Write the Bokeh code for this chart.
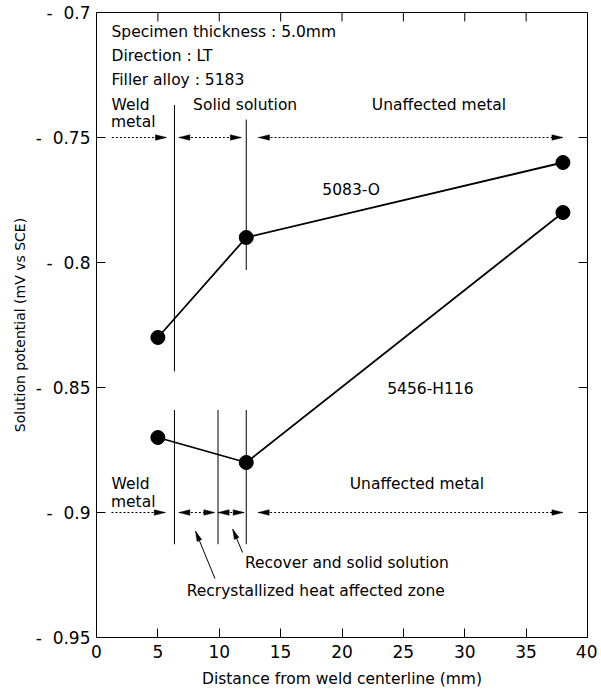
import math
from bokeh.plotting import figure
from bokeh.models import Range1d, FixedTicker, CustomJSTickFormatter
from bokeh.core.properties import value
from bokeh.embed import file_html
from bokeh.resources import INLINE

# ---------------- data ----------------
distance = [5.0, 12.2, 38.0]
pot_5083_O = [-0.83, -0.79, -0.76]
pot_5456_H116 = [-0.87, -0.88, -0.78]

x_ticks = [0, 5, 10, 15, 20, 25, 30, 35, 40]
y_ticks = [-0.95, -0.9, -0.85, -0.8, -0.75, -0.7]

# zone boundary lines (x position, y from, y to)
top_bound_x = [6.35, 12.2]
top_bound_y0 = [-0.737, -0.7428]
top_bound_y1 = [-0.8436, -0.803]
bot_bound_x = [6.35, 9.9, 12.2]
bot_bound_y0 = [-0.859, -0.859, -0.859]
bot_bound_y1 = [-0.9127, -0.9127, -0.9127]

# zone extent arrows
top_arrow_x0 = [1.25, 6.71, 13.2]
top_arrow_x1 = [5.7, 11.8, 38.0]
top_arrow_both = [False, True, True]
top_arrow_level = -0.75
bot_arrow_x0 = [1.22, 6.71, 9.91, 13.17]
bot_arrow_x1 = [5.6, 9.64, 12.03, 38.0]
bot_arrow_both = [False, True, True, True]
bot_arrow_level = -0.9

# pointer arrows (tail -> tip)
ptr_tail_x = [11.9, 9.65]
ptr_tail_y = [-0.916, -0.9264]
ptr_tip_x = [11.1, 8.07]
ptr_tip_y = [-0.9067, -0.9075]

# ---------------- layout ----------------
FONT = "DejaVu Sans"
X0, X1 = 0, 40
Y0, Y1 = -0.95, -0.7
BL, BR, BT, BB = 96, 10, 12, 55
FW, FH = 491, 625
W = BL + FW + BR
H = BT + FH + BB
PX_X = FW / (X1 - X0)
PX_Y = FH / (Y1 - Y0)
TICK = 9

p = figure(width=W, height=H, x_range=Range1d(X0, X1), y_range=Range1d(Y0, Y1),
           output_backend="svg", toolbar_location=None, tools="",
           min_border_left=BL, min_border_right=BR, min_border_top=BT, min_border_bottom=BB,
           x_axis_label="Distance from weld centerline (mm)",
           y_axis_label="Solution potential (mV vs SCE)")
p.grid.visible = False
p.outline_line_color = "black"
p.outline_line_width = 1
p.background_fill_color = "white"
p.border_fill_color = "white"

xa = p.xaxis[0]
xa.ticker = FixedTicker(ticks=x_ticks)
ya = p.yaxis[0]
ya.ticker = FixedTicker(ticks=y_ticks)
ya.formatter = CustomJSTickFormatter(code="return '- \u00a0' + String(Math.round(Math.abs(tick)*100)/100);")

for ax in (xa, ya):
    ax.major_tick_in = TICK
    ax.major_tick_out = 0
    ax.minor_tick_line_color = None
    ax.axis_line_color = "black"
    ax.major_tick_line_color = "black"
    ax.major_label_text_font = FONT
    ax.major_label_text_font_size = "17px"
    ax.major_label_text_color = "black"
    ax.axis_label_text_font = FONT
    ax.axis_label_text_font_style = "normal"
    ax.axis_label_text_color = "black"
xa.axis_label_text_font_size = "15.5px"
ya.axis_label_text_font_size = "14px"
xa.major_label_standoff = 7
xa.axis_label_standoff = 9
ya.major_label_standoff = 6
ya.axis_label_standoff = 5

# inward ticks on the top and right edges of the frame
p.segment(x_ticks, [Y1] * len(x_ticks), x_ticks, [Y1 - TICK / PX_Y] * len(x_ticks),
          line_color="black", line_width=1)
p.segment([X1] * len(y_ticks), y_ticks, [X1 - TICK / PX_X] * len(y_ticks), y_ticks,
          line_color="black", line_width=1)

# ---------------- series ----------------
p.line(distance, pot_5083_O, line_color="black", line_width=1.8)
p.line(distance, pot_5456_H116, line_color="black", line_width=1.8)
p.scatter(distance, pot_5083_O, size=14, color="black")
p.scatter(distance, pot_5456_H116, size=14, color="black")

# boundary lines
p.segment(top_bound_x, top_bound_y0, top_bound_x, top_bound_y1, line_color="black", line_width=1)
p.segment(bot_bound_x, bot_bound_y0, bot_bound_x, bot_bound_y1, line_color="black", line_width=1)

# arrowheads
HEAD_L, HEAD_W = 11, 5.5


def head(xt, yt, dxp, dyp, L=HEAD_L, Wd=HEAD_W):
    n = math.hypot(dxp, dyp)
    ux, uy = dxp / n, dyp / n
    px_, py_ = -uy, ux
    pts = [(0, 0), (-L * ux + Wd / 2 * px_, -L * uy + Wd / 2 * py_),
           (-L * ux - Wd / 2 * px_, -L * uy - Wd / 2 * py_)]
    xs = [xt + a / PX_X for a, b in pts]
    ys = [yt - b / PX_Y for a, b in pts]
    return xs, ys


hx, hy = [], []
for x0s, x1s, boths, lvl in ((top_arrow_x0, top_arrow_x1, top_arrow_both, top_arrow_level),
                             (bot_arrow_x0, bot_arrow_x1, bot_arrow_both, bot_arrow_level)):
    p.segment(x0s, [lvl] * len(x0s), x1s, [lvl] * len(x0s), line_color="black",
              line_width=1, line_dash="2 2")
    for a, b, both in zip(x0s, x1s, boths):
        xs, ys = head(b, lvl, 1, 0)
        hx.append(xs); hy.append(ys)
        if both:
            xs, ys = head(a, lvl, -1, 0)
            hx.append(xs); hy.append(ys)

p.segment(ptr_tail_x, ptr_tail_y, ptr_tip_x, ptr_tip_y, line_color="black", line_width=1)
for tx, ty, px0, py0 in zip(ptr_tip_x, ptr_tip_y, ptr_tail_x, ptr_tail_y):
    xs, ys = head(tx, ty, (tx - px0) * PX_X, -(ty - py0) * PX_Y, L=10, Wd=5)
    hx.append(xs); hy.append(ys)

p.patches(hx, hy, fill_color="black", line_color="black", line_width=0.5)

# ---------------- texts ----------------
left_texts = ["Specimen thickness : 5.0mm", "Direction : LT", "Filler alloy : 5183",
              "Weld", "metal", "Weld", "metal"]
left_x = [1.22, 1.22, 1.22, 1.22, 1.18, 1.22, 1.18]
left_y = [-0.7076, -0.7172, -0.7268, -0.7369, -0.7437, -0.8885, -0.8956]
p.text(left_x, left_y, text=left_texts, text_font=value(FONT), text_font_size="15.5px",
       text_align="left", text_baseline="middle", text_color="black")

ctr_texts = ["Solid solution", "Unaffected metal", "5083-O", "5456-H116", "Unaffected metal",
             "Recover and solid solution", "Recrystallized heat affected zone"]
ctr_x = [12.11, 27.9, 20.75, 27.2, 26.1, 20.4, 17.86]
ctr_y = [-0.7369, -0.7369, -0.7708, -0.8504, -0.8885, -0.92, -0.9315]
p.text(ctr_x, ctr_y, text=ctr_texts, text_font=value(FONT), text_font_size="15.5px",
       text_align="center", text_baseline="middle", text_color="black")

open("out.html", "w").write(file_html(p, INLINE))
